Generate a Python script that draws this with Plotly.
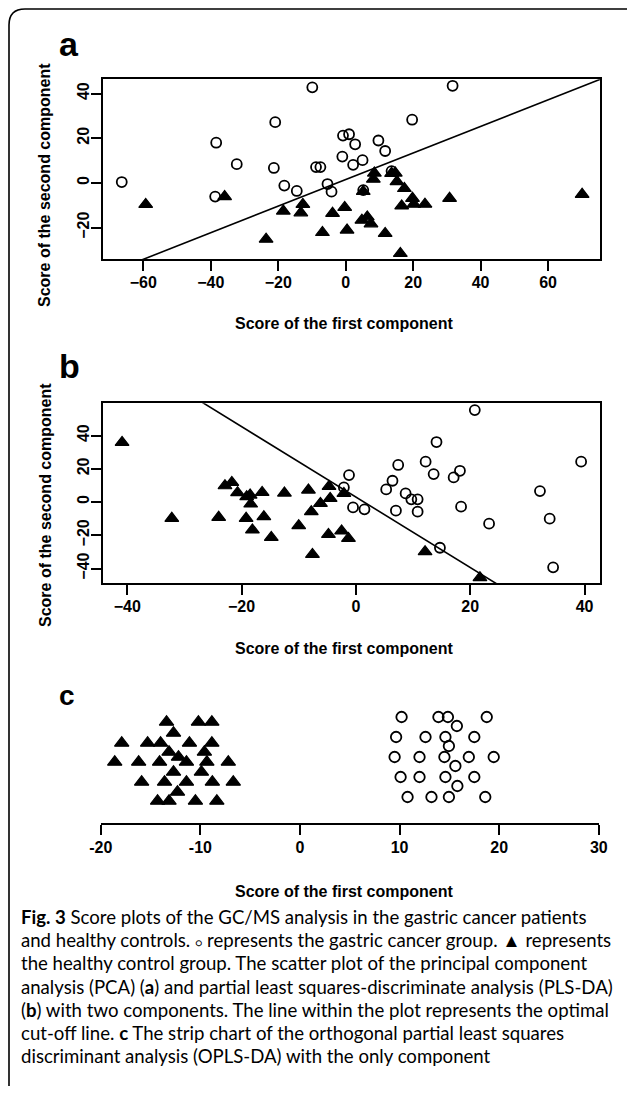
import plotly.graph_objects as go

W, H = 627, 1094

# ---------------- Panel a (PCA) ----------------
a_cancer_x = [-66.4, -38.4, -38.7, -32.3, -20.9, -21.3, -18.2, -14.5, -9.9, -8.8, -7.5, -5.4, -4.2,
              -0.8, 1.0, 2.8, -1.0, 2.2, 5.0, 5.2, 9.7, 11.7, 19.7, 31.7, 13.6]
a_cancer_y = [0.4, 18.0, -6.1, 8.4, 27.2, 6.7, -1.2, -3.6, 42.8, 7.1, 7.1, -0.5, -3.9,
              21.2, 21.8, 17.3, 11.8, 8.1, 10.2, -3.2, 19.0, 14.3, 28.3, 43.5, 5.3]
a_control_x = [-59.3, -35.9, -23.6, -18.5, -12.7, -13.3, -6.9, -3.9, -0.3, 0.4, 4.8, 6.4, 7.5, 5.2,
               8.2, 8.5, 11.7, 13.6, 14.7, 15.2, 17.4, 16.6, 16.2, 19.8, 20.2, 23.5, 30.8, 70.1]
a_control_y = [-9.6, -6.1, -25.2, -12.6, -9.6, -13.4, -22.2, -13.6, -11.0, -21.1, -16.7, -15.2, -18.3, -3.8,
               1.7, 4.4, -22.6, 4.3, 4.4, 0.6, -2.5, -10.3, -31.6, -6.9, -9.5, -9.5, -6.9, -5.1]
a_cutoff = [0.595, 1.5]          # slope, intercept
a_xrange = [-71.9, 75.4]
a_yrange = [-34.2, 46.4]
a_xticks = [-60, -40, -20, 0, 20, 40, 60]
a_yticks = [-20, 0, 20, 40]

# ---------------- Panel b (PLS-DA) ----------------
b_cancer_x = [20.8, 14.1, 39.4, 7.4, 12.2, 13.6, 17.1, 18.2, -1.2, -2.1, 6.4, 5.3, 8.7, 9.7, 10.8,
              7.0, 10.8, -0.5, 1.5, 18.4, 23.3, 32.2, 33.9, 34.5, 14.7]
b_cancer_y = [55.3, 36.1, 24.3, 22.3, 24.3, 16.8, 14.8, 18.8, 16.2, 8.8, 12.8, 7.6, 5.2, 1.6, 1.6,
              -5.2, -5.8, -3.2, -4.4, -2.8, -13.0, 6.6, -10.0, -39.3, -27.5]
b_control_x = [-40.9, -32.2, -24.0, -22.9, -21.7, -20.7, -19.1, -18.5, -18.4, -19.2, -18.1, -16.4, -16.1,
               -14.8, -12.5, -10.0, -8.3, -7.8, -7.6, -6.2, -4.7, -4.5, -4.8, -2.5, -2.1, -1.3, 12.1, 21.7]
b_control_y = [35.9, -9.8, -9.2, 9.8, 11.8, 5.6, 3.2, 4.2, -1.2, -9.8, -16.8, 5.8, -8.8,
               -21.3, 5.4, -14.2, 7.2, -5.8, -31.5, -0.8, 9.4, 2.2, -19.5, -17.4, 5.2, -21.9, -29.9, -45.5]
b_cutoff = [-2.12, 3.0]
b_xrange = [-44.2, 42.7]
b_yrange = [-48.9, 59.4]
b_xticks = [-40, -20, 0, 20, 40]
b_yticks = [-40, -20, 0, 20, 40]

# ---------------- Panel c (OPLS-DA strip chart) ----------------
c_control_x = [-13.4, -10.2, -8.85, -12.7, -17.9, -15.3, -14.0, -11.1, -8.85, -13.15, -9.6, -12.2,
               -18.6, -16.2, -14.1, -11.4, -9.35, -7.2, -12.7, -9.9, -15.9, -13.6, -11.4, -8.8, -6.7,
               -12.3, -14.3, -13.15, -10.5, -8.35]
c_control_y = [1.75, 1.75, 1.75, 1.2, 0.7, 0.7, 0.7, 0.7, 0.7, 0.25, 0.25, 0.0,
               -0.25, -0.25, -0.25, -0.25, -0.25, -0.25, -0.75, -0.75, -1.25, -1.25, -1.25, -1.25, -1.25,
               -1.75, -2.2, -2.2, -2.2, -2.2]
c_cancer_x = [10.2, 13.9, 14.85, 18.75, 15.75, 9.65, 12.6, 14.6, 17.5, 14.95, 9.5, 12.0, 14.5, 16.95,
              19.45, 15.6, 10.1, 12.0, 14.6, 17.5, 15.8, 10.8, 13.2, 14.95, 18.6]
c_cancer_y = [2.0, 2.0, 2.0, 2.0, 1.55, 1.0, 1.0, 1.0, 1.0, 0.55, 0.0, 0.0, 0.0, 0.0,
              0.0, -0.45, -1.0, -1.0, -1.0, -1.0, -1.45, -2.0, -2.0, -2.0, -2.0]
c_xrange = [-20, 30]
c_yrange = [-3.315, 2.685]
c_xticks = [-20, -10, 0, 10, 20, 30]
c_xticktext = ["-20", "-10", "0", "10", "20", "30"]

axis_title_x = "Score of the first component"
axis_title_y = "Score of the second component"
panel_labels = ["a", "b", "c"]
caption_lines = [
    "<b>Fig. 3</b> Score plots of the GC/MS analysis in the gastric cancer patients",
    "and healthy controls. <span style=\"font-size:11px\">\u25cb</span> represents the gastric cancer group. "
    "\u25b2 represents",
    "the healthy control group. The scatter plot of the principal component",
    "analysis (PCA) (<b>a</b>) and partial least squares-discriminate analysis (PLS-DA)",
    "(<b>b</b>) with two components. The line within the plot represents the optimal",
    "cut-off line. <b>c</b> The strip chart of the orthogonal partial least squares",
    "discriminant analysis (OPLS-DA) with the only component",
]

# ---------------- figure ----------------
def px(x):
    return x / W

def py(y):
    return 1 - y / H

TICKFONT = dict(family="Liberation Sans, Arial, sans-serif", size=16, color="black", weight="bold")
LW = 1.8

fig = go.Figure()

circle = dict(symbol="circle-open", size=10, color="black", line=dict(width=1.8, color="black"))
tri = dict(symbol="triangle-up", size=12, color="black", line=dict(width=1.2, color="black"))

fig.add_trace(go.Scatter(x=a_cancer_x, y=a_cancer_y, mode="markers", marker=circle, xaxis="x", yaxis="y"))
fig.add_trace(go.Scatter(x=a_control_x, y=a_control_y, mode="markers", marker=tri, xaxis="x", yaxis="y"))
fig.add_trace(go.Scatter(x=a_xrange, y=[a_cutoff[0] * v + a_cutoff[1] for v in a_xrange], mode="lines",
                         line=dict(color="black", width=1.6), xaxis="x", yaxis="y"))
fig.add_trace(go.Scatter(x=b_cancer_x, y=b_cancer_y, mode="markers", marker=circle, xaxis="x2", yaxis="y2"))
fig.add_trace(go.Scatter(x=b_control_x, y=b_control_y, mode="markers", marker=tri, xaxis="x2", yaxis="y2"))
fig.add_trace(go.Scatter(x=b_xrange, y=[b_cutoff[0] * v + b_cutoff[1] for v in b_xrange], mode="lines",
                         line=dict(color="black", width=1.6), xaxis="x2", yaxis="y2"))
circle_c = dict(circle, size=10.5)
tri_c = dict(tri, size=12.5)
fig.add_trace(go.Scatter(x=c_control_x, y=c_control_y, mode="markers", marker=tri_c, xaxis="x3", yaxis="y3"))
fig.add_trace(go.Scatter(x=c_cancer_x, y=c_cancer_y, mode="markers", marker=circle_c, xaxis="x3", yaxis="y3"))


def box_axis(domain, rng, ticks, angle=0, standoff=0):
    return dict(domain=domain, range=rng, tickvals=ticks, showgrid=False, zeroline=False,
                showline=True, mirror=True, linecolor="black", linewidth=LW,
                ticks="outside", ticklen=10, tickwidth=LW, tickcolor="black",
                tickfont=TICKFONT, tickangle=angle, ticklabelstandoff=standoff, fixedrange=True,
                automargin=False)


fig.update_layout(
    width=W, height=H, margin=dict(l=0, r=0, t=0, b=0, pad=0), autosize=False,
    paper_bgcolor="white", plot_bgcolor="white", showlegend=False,
    xaxis=box_axis([px(103.2), px(600)], a_xrange, a_xticks, 0, -2),
    yaxis=box_axis([py(259.3), py(79.3)], a_yrange, a_yticks, -90, -4),
    xaxis2=dict(box_axis([px(103.2), px(600)], b_xrange, b_xticks, 0, -2), anchor="y2"),
    yaxis2=dict(box_axis([py(583.3), py(403.3)], b_yrange, b_yticks, -90, -4), anchor="x2"),
    xaxis3=dict(domain=[px(100.8), px(598.8)], range=c_xrange, tickvals=c_xticks, ticktext=c_xticktext,
                showgrid=False, zeroline=False, showline=True, mirror=False, linecolor="black",
                linewidth=LW, ticks="outside", ticklen=10, tickwidth=LW, tickcolor="black",
                tickfont=TICKFONT, ticklabelstandoff=-1, anchor="y3", fixedrange=True, automargin=False),
    yaxis3=dict(domain=[py(823.3), py(703.3)], range=c_yrange, visible=False, anchor="x3", fixedrange=True),
)

ann = []
TITLEFONT = dict(family="Liberation Sans, Arial, sans-serif", size=16, color="black", weight="bold")
for yc in (323.3, 648.3, 891.7):
    ann.append(dict(text=axis_title_x, x=px(344), y=py(yc), xref="paper", yref="paper",
                    xanchor="center", yanchor="middle", showarrow=False, font=TITLEFONT))
for yc in (185, 505):
    ann.append(dict(text=axis_title_y, x=px(45), y=py(yc), xref="paper", yref="paper",
                    xanchor="center", yanchor="middle", showarrow=False, font=TITLEFONT, textangle=-90))
for lab, yc, sz in zip(panel_labels, (44, 366, 695), (34, 34, 28)):
    ann.append(dict(text="<b>%s</b>" % lab, x=px(57), y=py(yc), xref="paper", yref="paper",
                    xanchor="left", yanchor="middle", showarrow=False,
                    font=dict(family="Liberation Sans, Arial, sans-serif", size=sz, color="black")))
CAPFONT = dict(family="Lato, Open Sans, sans-serif", size=18.6, color="black")
for i, line in enumerate(caption_lines):
    ann.append(dict(text=line, x=px(19), y=py(917 + 23.2 * i), xref="paper", yref="paper",
                    xanchor="left", yanchor="middle", showarrow=False, font=CAPFONT))
fig.update_layout(annotations=ann)

# rounded frame of the figure panel
r = 16
fig.add_shape(type="path", xref="paper", yref="paper",
              path="M %f %f L %f %f Q %f %f %f %f L %f %f" % (
                  px(9), py(1086), px(9), py(9 + r), px(9), py(9), px(9 + r), py(9), px(640), py(9)),
              line=dict(color="black", width=1.6))

fig.write_html("out.html", config={"displayModeBar": False, "responsive": False},
               post_script="document.body.style.margin='0';document.body.style.overflow='hidden';")
